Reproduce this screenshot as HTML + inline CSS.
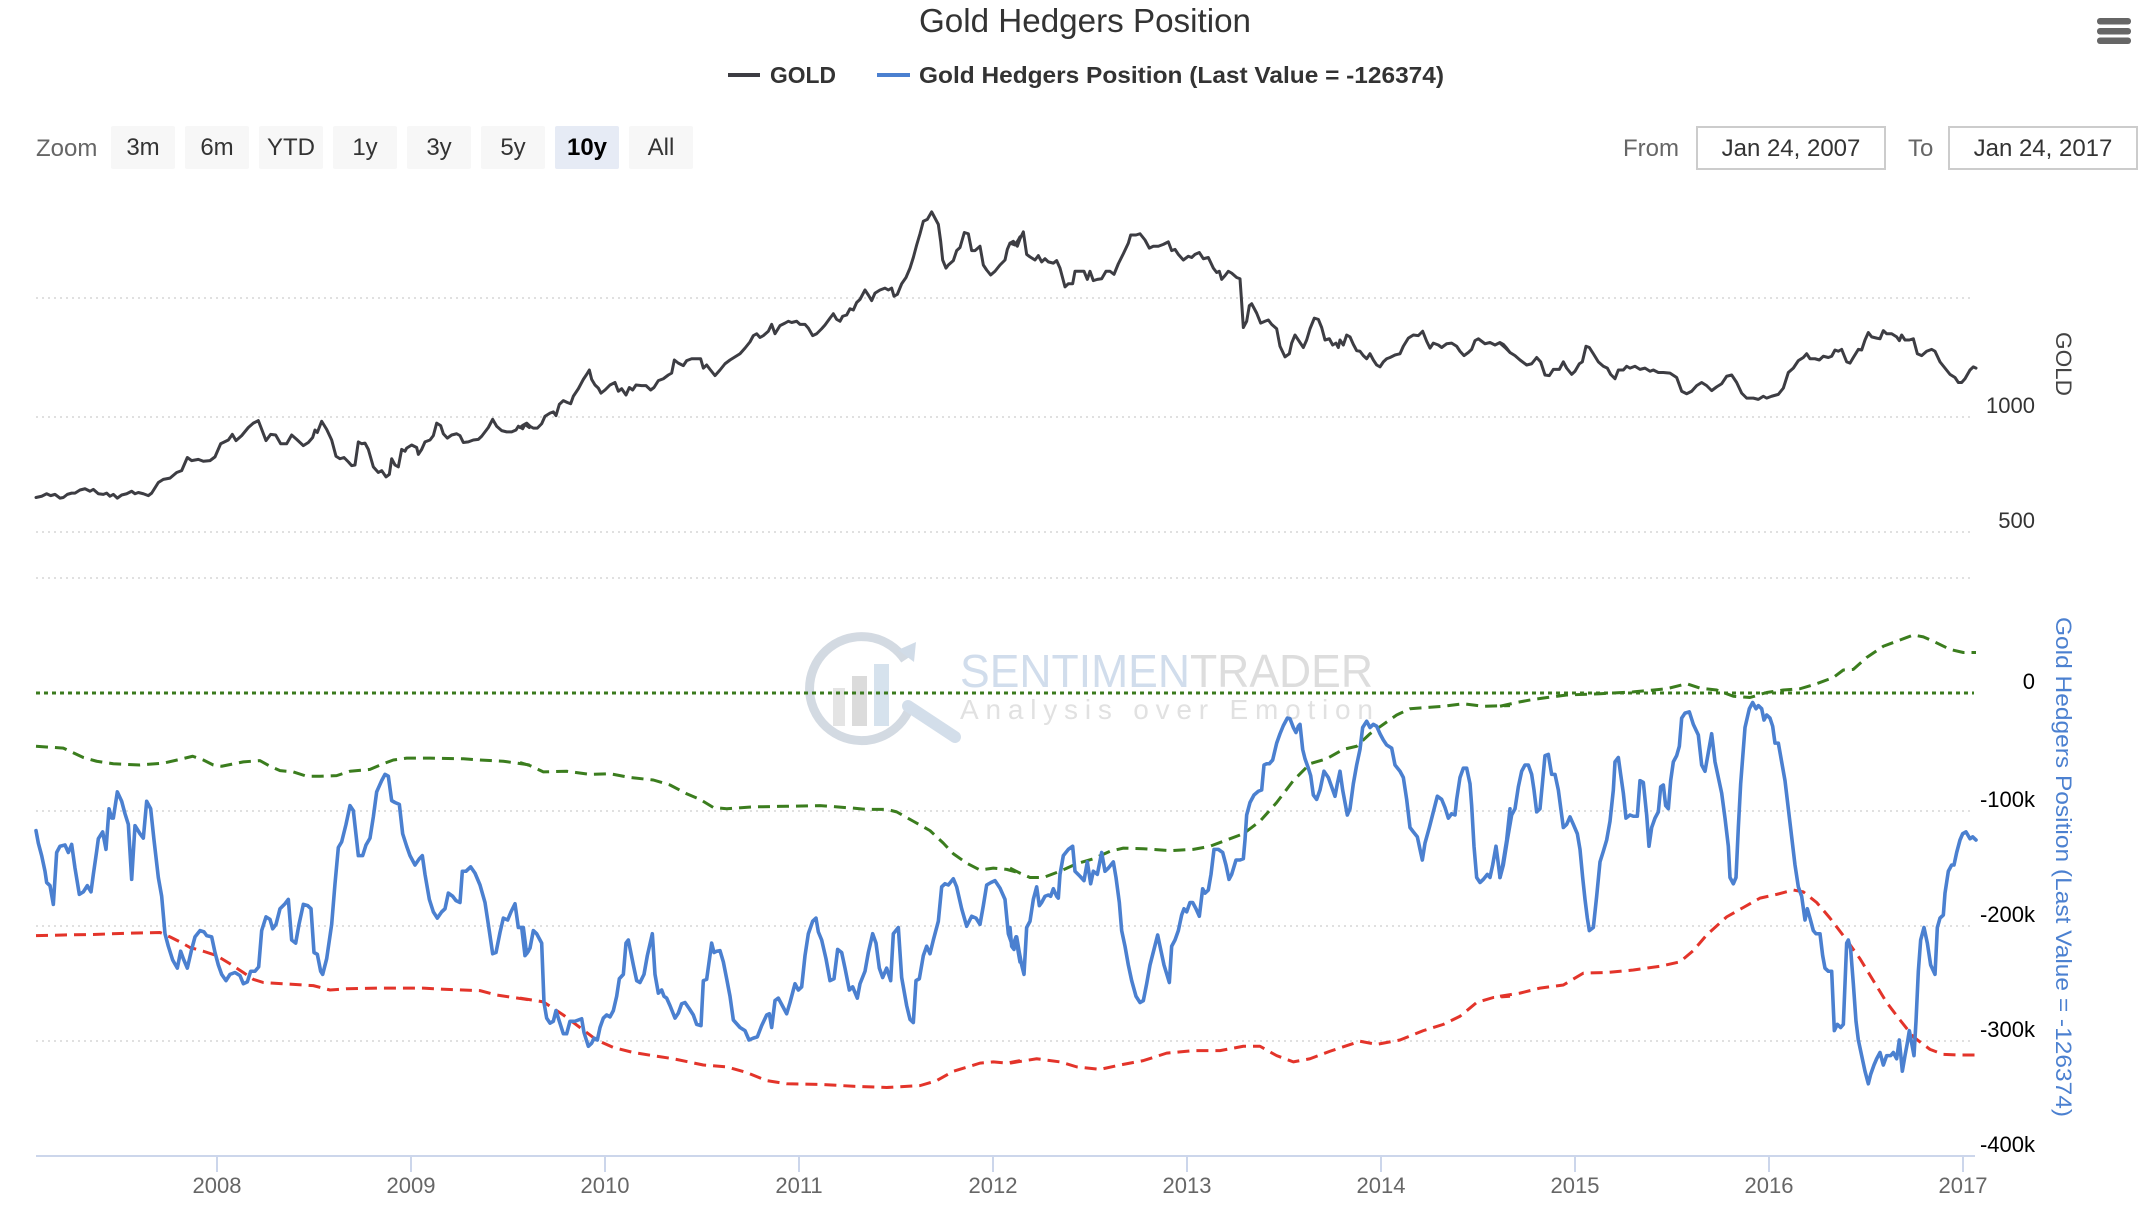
<!DOCTYPE html>
<html><head><meta charset="utf-8"><style>
html,body{margin:0;padding:0;background:#fff;}
svg{display:block;font-family:"Liberation Sans",Arial,sans-serif;}
.ns{vector-effect:non-scaling-stroke;fill:none;stroke-linejoin:round;stroke-linecap:round;}
.gold{stroke:#3d3d43;stroke-width:3;}
.blue{stroke:#4b80d0;stroke-width:3.6;}
.grn{stroke:#3b7d1e;stroke-width:3;stroke-dasharray:12,7;stroke-linecap:butt;}
.red{stroke:#e3342a;stroke-width:3;stroke-dasharray:12,7;stroke-linecap:butt;}
</style></head><body>
<svg width="2142" height="1212" viewBox="0 0 2142 1212" xmlns="http://www.w3.org/2000/svg">
<rect width="2142" height="1212" fill="#fff"/>
<!-- title -->
<text x="1085" y="32" text-anchor="middle" font-size="33" fill="#333" textLength="332" lengthAdjust="spacingAndGlyphs">Gold Hedgers Position</text>
<!-- legend -->
<line x1="728" y1="75" x2="760" y2="75" stroke="#3d3d43" stroke-width="4"/>
<text x="770" y="83" font-size="23" font-weight="bold" fill="#333" textLength="66" lengthAdjust="spacingAndGlyphs">GOLD</text>
<line x1="877" y1="75" x2="910" y2="75" stroke="#4b80d0" stroke-width="4"/>
<text x="919" y="83" font-size="23" font-weight="bold" fill="#333" textLength="525" lengthAdjust="spacingAndGlyphs">Gold Hedgers Position (Last Value = -126374)</text>
<!-- hamburger -->
<rect x="2097" y="18" width="34" height="6.5" rx="3" fill="#666"/>
<rect x="2097" y="28" width="34" height="6.5" rx="3" fill="#666"/>
<rect x="2097" y="37.5" width="34" height="6.5" rx="3" fill="#666"/>
<!-- zoom buttons -->
<text x="36" y="156" font-size="24" fill="#666">Zoom</text>
<g font-size="24" fill="#333" text-anchor="middle">
<rect x="111" y="126" width="64" height="43" rx="2" fill="#f7f7f7"/><text x="143" y="155">3m</text>
<rect x="185" y="126" width="64" height="43" rx="2" fill="#f7f7f7"/><text x="217" y="155">6m</text>
<rect x="259" y="126" width="64" height="43" rx="2" fill="#f7f7f7"/><text x="291" y="155">YTD</text>
<rect x="333" y="126" width="64" height="43" rx="2" fill="#f7f7f7"/><text x="365" y="155">1y</text>
<rect x="407" y="126" width="64" height="43" rx="2" fill="#f7f7f7"/><text x="439" y="155">3y</text>
<rect x="481" y="126" width="64" height="43" rx="2" fill="#f7f7f7"/><text x="513" y="155">5y</text>
<rect x="555" y="126" width="64" height="43" rx="2" fill="#e6ebf5"/><text x="587" y="155" font-weight="bold" fill="#000">10y</text>
<rect x="629" y="126" width="64" height="43" rx="2" fill="#f7f7f7"/><text x="661" y="155">All</text>
</g>
<text x="1623" y="156" font-size="24" fill="#666">From</text>
<rect x="1697" y="127" width="188" height="42" fill="#fff" stroke="#ccc" stroke-width="2"/>
<text x="1791" y="156" font-size="24" fill="#333" text-anchor="middle">Jan 24, 2007</text>
<text x="1908" y="156" font-size="24" fill="#666">To</text>
<rect x="1949" y="127" width="188" height="42" fill="#fff" stroke="#ccc" stroke-width="2"/>
<text x="2043" y="156" font-size="24" fill="#333" text-anchor="middle">Jan 24, 2017</text>

<!-- gridlines -->
<g stroke="#d6d6d6" stroke-width="1.5" stroke-dasharray="2,4">
<line x1="36" y1="298" x2="1974" y2="298"/>
<line x1="36" y1="417" x2="1974" y2="417"/>
<line x1="36" y1="532" x2="1974" y2="532"/>
<line x1="36" y1="578" x2="1974" y2="578"/>
<line x1="36" y1="811" x2="1974" y2="811"/>
<line x1="36" y1="926" x2="1974" y2="926"/>
<line x1="36" y1="1041" x2="1974" y2="1041"/>
</g>

<!-- watermark -->
<g opacity="0.9">
<path d="M 905,660 A 52,52 0 1 0 908,712" fill="none" stroke="#cfd6df" stroke-width="9"/>
<path d="M 898,650 L 916,642 L 914,662 Z" fill="#cdd9e6"/>
<rect x="833" y="688" width="12" height="38" fill="#e2e2e2"/>
<rect x="852" y="676" width="15" height="50" fill="#d8d8d8"/>
<rect x="874" y="664" width="15" height="62" fill="#d2dfec"/>
<line x1="908" y1="706" x2="955" y2="737" stroke="#cfdbe8" stroke-width="12" stroke-linecap="round"/>
<text x="960" y="687" font-size="46" textLength="413" lengthAdjust="spacingAndGlyphs"><tspan fill="#cddaea">SENTIMEN</tspan><tspan fill="#dadada">TRADER</tspan></text>
<text x="960" y="719" font-size="28" fill="#dedede" textLength="413" lengthAdjust="spacing">Analysis over Emotion</text>
</g>

<!-- zero line -->
<line x1="36" y1="693" x2="1974" y2="693" stroke="#3b7a1e" stroke-width="3" stroke-dasharray="4,4"/>

<!-- x axis -->
<line x1="36" y1="1156" x2="1975" y2="1156" stroke="#ccd6eb" stroke-width="2"/>
<g stroke="#ccd6eb" stroke-width="2">
<line x1="217" y1="1156" x2="217" y2="1172"/><line x1="411" y1="1156" x2="411" y2="1172"/>
<line x1="605" y1="1156" x2="605" y2="1172"/><line x1="799" y1="1156" x2="799" y2="1172"/>
<line x1="993" y1="1156" x2="993" y2="1172"/><line x1="1187" y1="1156" x2="1187" y2="1172"/>
<line x1="1381" y1="1156" x2="1381" y2="1172"/><line x1="1575" y1="1156" x2="1575" y2="1172"/>
<line x1="1769" y1="1156" x2="1769" y2="1172"/><line x1="1963" y1="1156" x2="1963" y2="1172"/>
</g>
<g font-size="22" fill="#666" text-anchor="middle">
<text x="217" y="1193">2008</text><text x="411" y="1193">2009</text><text x="605" y="1193">2010</text>
<text x="799" y="1193">2011</text><text x="993" y="1193">2012</text><text x="1187" y="1193">2013</text>
<text x="1381" y="1193">2014</text><text x="1575" y="1193">2015</text><text x="1769" y="1193">2016</text>
<text x="1963" y="1193">2017</text>
</g>
<!-- y labels -->
<g font-size="22" text-anchor="end">
<text x="2035" y="413" fill="#333">1000</text>
<text x="2035" y="528" fill="#333">500</text>
<text x="2035" y="689" fill="#000">0</text>
<text x="2035" y="807" fill="#000">-100k</text>
<text x="2035" y="922" fill="#000">-200k</text>
<text x="2035" y="1037" fill="#000">-300k</text>
<text x="2035" y="1152" fill="#000">-400k</text>
</g>
<text transform="translate(2064,364) rotate(90)" text-anchor="middle" dy="8" font-size="22" fill="#444" textLength="64" lengthAdjust="spacingAndGlyphs">GOLD</text>
<text transform="translate(2064,867) rotate(90)" text-anchor="middle" dy="8" font-size="22" fill="#4b80d0" textLength="500" lengthAdjust="spacingAndGlyphs">Gold Hedgers Position (Last Value = -126374)</text>

<!-- SEGMENT 1 -->
<g transform="translate(30,190) scale(0.333333,0.625)">
<polyline class="ns grn" points="18,890 100,893 120,898 160,908 200,914 250,918 330,920 400,917 450,911 488,906 520,912 550,920 575,922 640,915 690,913 720,922 750,929 790,931 830,938 870,938 920,937 960,930 1020,927 1060,918 1090,912 1130,909 1200,909 1300,910 1350,912 1420,914 1500,920"/>
<polyline class="ns red" points="18,1193 100,1192 200,1191 300,1189 390,1188 420,1195 450,1203 480,1212 520,1218 560,1225 600,1238 640,1252 670,1263 700,1268 760,1270 850,1273 900,1280 950,1278 1050,1277 1180,1277 1250,1279 1350,1281 1400,1288 1450,1292 1500,1296"/>
<polyline class="ns blue" points="18,1025 25,1045 35,1065 45,1090 50,1108 60,1113 70,1143 80,1060 90,1050 105,1048 115,1060 125,1047 135,1085 148,1127 160,1123 172,1113 183,1123 190,1095 200,1058 205,1038 218,1027 228,1055 237,990 245,1005 250,1005 262,963 275,978 285,998 295,1015 305,1103 315,1017 330,1030 340,1037 350,978 362,990 372,1040 385,1100 395,1130 405,1190 415,1210 428,1232 442,1245 452,1218 460,1230 472,1245 485,1215 495,1195 510,1185 522,1187 530,1193 545,1195 555,1220 565,1240 575,1255 588,1265 600,1255 615,1252 630,1257 640,1270 652,1267 662,1250 675,1250 686,1243 695,1185 708,1163 720,1167 728,1182 738,1175 750,1150 765,1142 775,1135 785,1200 797,1205 807,1175 820,1143 833,1145 843,1150 852,1220 862,1223 872,1250 878,1255 890,1230 905,1175 915,1110 925,1052 935,1043 948,1015 960,985 970,993 985,1065 998,1065 1008,1048 1020,1037 1030,1003 1040,963 1055,945 1065,935 1075,938 1085,977 1095,980 1108,983 1118,1030 1130,1050 1140,1065 1155,1080 1168,1070 1177,1065 1185,1095 1198,1135 1210,1155 1222,1165 1235,1155 1245,1150 1255,1125 1268,1130 1278,1137 1290,1140 1297,1090 1308,1090 1322,1083 1335,1093 1350,1112 1365,1140 1375,1175 1388,1222 1398,1220 1410,1188 1420,1165 1433,1168 1443,1155 1455,1142 1465,1180 1475,1180 1485,1225 1495,1218"/>
<polyline class="ns gold" points="18,492 35,490 50,486 62,489 75,487 90,493 100,492 112,487 125,485 135,485 150,480 165,478 180,482 190,479 205,486 220,487 230,485 240,490 250,487 262,493 275,488 290,486 305,482 315,486 325,484 340,486 355,489 365,485 385,468 400,463 420,461 440,452 455,449 472,428 485,433 505,431 520,434 540,433 555,427 572,406 595,400 607,391 618,401 635,393 655,380 670,373 685,369 693,380 708,401 722,391 737,392 752,406 770,406 785,392 800,399 820,409 835,404 848,396 855,384 862,388 875,370 890,383 905,400 918,426 930,430 942,428 955,435 965,441 975,440 985,403 995,406 1005,405 1015,415 1030,443 1045,452 1055,449 1068,459 1078,455 1085,430 1095,440 1105,443 1115,415 1125,418 1130,413 1145,408 1160,412 1165,423 1175,415 1185,403 1200,400 1210,393 1220,373 1232,377 1240,390 1252,397 1265,392 1280,390 1290,393 1300,404 1315,403 1330,400 1345,399 1355,394 1375,380 1388,367 1400,378 1415,385 1430,387 1445,387 1458,384 1465,378 1478,382 1485,375 1498,380"/>
</g>

<!-- SEGMENT 2 -->
<g transform="translate(520,190) scale(0.333333,0.625)">
<polyline class="ns grn" points="0,916 30,921 70,931 140,930 210,935 270,934 330,940 400,944 450,952 500,966 540,975 580,988 620,990 700,987 800,986 900,985 1000,989 1040,991 1100,991 1130,995 1180,1010 1230,1025 1270,1045 1300,1062 1340,1077 1380,1088 1420,1085 1460,1087 1500,1093"/>
<polyline class="ns red" points="0,1293 70,1299 130,1320 180,1340 230,1360 280,1372 340,1380 410,1386 460,1390 550,1400 620,1403 680,1412 740,1425 800,1430 900,1431 1000,1434 1100,1436 1200,1433 1250,1425 1300,1410 1350,1402 1380,1397 1420,1395 1460,1397 1500,1393"/>
<polyline class="ns blue" points="0,1180 10,1180 20,1222 30,1213 40,1185 50,1190 65,1205 72,1300 80,1325 90,1333 100,1330 108,1313 118,1330 130,1350 140,1350 150,1330 165,1330 185,1326 192,1348 205,1370 215,1365 222,1357 232,1360 240,1340 250,1325 260,1320 270,1323 280,1313 290,1290 298,1262 310,1255 318,1205 325,1200 340,1240 350,1265 360,1268 372,1255 382,1225 397,1190 405,1255 415,1285 425,1280 432,1290 440,1293 450,1305 465,1325 475,1317 485,1302 495,1300 508,1310 520,1320 530,1335 543,1337 550,1265 560,1263 575,1205 582,1220 590,1218 600,1217 610,1235 620,1262 630,1290 640,1328 660,1340 675,1345 687,1360 700,1357 712,1355 725,1337 740,1320 748,1318 755,1340 765,1297 775,1293 787,1305 800,1318 810,1300 820,1280 825,1270 835,1280 845,1275 855,1225 865,1190 878,1170 888,1165 895,1187 905,1200 918,1230 930,1265 942,1262 953,1215 965,1220 975,1245 988,1280 998,1275 1012,1293 1020,1270 1035,1250 1045,1220 1058,1190 1068,1205 1078,1245 1088,1260 1100,1245 1112,1265 1120,1190 1135,1180 1145,1260 1160,1305 1170,1327 1180,1332 1188,1265 1198,1262 1210,1225 1220,1210 1230,1222 1240,1200 1255,1170 1265,1115 1275,1110 1285,1112 1300,1102 1310,1115 1325,1150 1340,1178 1355,1162 1368,1165 1380,1175 1390,1145 1400,1112 1413,1108 1425,1105 1440,1117 1455,1135 1465,1190 1478,1210 1488,1195 1495,1220 1500,1235"/>
<polyline class="ns gold" points="0,380 10,376 20,373 30,378 40,381 52,381 65,374 75,362 90,357 100,355 108,361 118,343 130,337 142,340 152,342 160,330 175,318 190,303 200,295 208,288 215,303 225,312 235,317 243,325 255,320 270,312 285,308 295,322 305,318 318,328 328,316 338,320 348,312 365,313 378,313 392,320 402,316 415,305 430,302 445,296 455,293 463,272 475,277 490,281 500,273 515,270 530,270 542,270 550,285 560,280 570,287 585,297 600,288 615,278 630,272 645,267 660,262 675,253 690,243 700,233 710,230 720,236 730,233 745,226 755,215 765,230 780,217 795,213 805,210 815,212 830,210 840,215 855,215 865,221 878,233 890,230 905,222 915,216 930,205 940,198 950,207 960,210 968,202 980,200 990,190 1000,192 1010,180 1020,175 1035,160 1045,168 1055,177 1065,165 1080,160 1095,157 1105,160 1115,157 1122,170 1132,167 1145,150 1158,140 1170,125 1180,108 1190,88 1200,70 1210,50 1222,47 1235,35 1245,45 1255,55 1262,82 1268,112 1278,125 1285,120 1300,113 1310,97 1320,92 1333,68 1345,70 1355,97 1365,97 1380,90 1390,120 1400,128 1412,136 1425,130 1440,120 1455,112 1462,95 1470,85 1485,88 1495,80 1500,75"/>
</g>

<!-- SEGMENT 3 -->
<g transform="translate(1010,190) scale(0.333333,0.625)">
<polyline class="ns grn" points="0,1085 30,1093 60,1100 100,1100 150,1090 200,1078 250,1070 300,1058 340,1053 400,1054 480,1057 550,1055 600,1050 650,1040 700,1030 750,1010 800,980 850,945 900,918 950,910 1000,895 1040,890 1080,870 1120,855 1160,840 1200,830 1300,826 1360,822 1420,826 1500,825"/>
<polyline class="ns red" points="0,1397 80,1390 150,1395 200,1403 270,1407 330,1400 400,1393 470,1381 550,1377 630,1377 700,1370 750,1370 800,1385 850,1395 900,1390 960,1378 1050,1362 1100,1367 1170,1360 1240,1345 1300,1335 1350,1322 1400,1300 1450,1292 1500,1290"/>
<polyline class="ns blue" points="0,1180 5,1210 12,1215 20,1195 28,1220 35,1240 42,1255 50,1180 60,1170 70,1135 80,1115 88,1145 95,1140 105,1130 115,1128 122,1130 130,1118 140,1130 145,1133 150,1095 160,1065 175,1055 188,1050 195,1090 210,1098 222,1105 232,1075 242,1110 250,1090 262,1095 275,1060 285,1090 295,1085 310,1075 318,1100 328,1140 335,1185 345,1210 355,1240 365,1265 378,1290 390,1300 400,1297 410,1270 420,1240 432,1215 443,1192 452,1215 462,1240 478,1268 485,1210 495,1200 505,1185 515,1160 522,1150 530,1155 540,1140 548,1140 558,1150 568,1162 578,1118 585,1125 595,1120 603,1095 612,1055 625,1055 638,1060 648,1080 657,1103 665,1095 678,1072 690,1072 700,1070 705,1040 710,1000 720,980 732,968 745,962 755,960 762,920 770,918 778,918 788,912 800,885 810,870 820,857 832,845 840,846 850,860 858,868 865,858 870,855 878,895 885,910 895,925 902,937 910,968 920,975 930,960 942,930 955,940 965,955 975,970 982,950 990,930 998,960 1005,980 1012,1000 1020,990 1030,950 1040,920 1050,895 1058,860 1070,850 1080,860 1090,855 1100,858 1110,870 1120,880 1130,888 1145,893 1155,920 1170,930 1180,940 1190,975 1200,1020 1210,1027 1222,1035 1230,1055 1237,1072 1245,1045 1258,1020 1270,995 1282,970 1295,975 1305,988 1315,1005 1325,998 1335,1000 1340,975 1350,940 1360,925 1370,925 1380,950 1385,985 1392,1050 1400,1100 1410,1108 1420,1103 1432,1095 1440,1100 1448,1080 1458,1050 1463,1070 1470,1100 1478,1080 1490,1040 1500,990"/>
<polyline class="ns gold" points="0,85 10,82 22,90 30,78 40,67 50,103 60,107 75,112 85,105 95,115 105,110 115,115 130,117 140,113 150,125 165,155 175,150 188,150 195,130 210,130 222,130 232,143 240,130 250,145 262,143 275,142 288,130 300,130 312,135 325,118 340,102 355,85 362,72 378,72 390,70 405,80 418,93 430,90 445,90 460,87 475,83 485,97 495,95 505,103 520,112 535,106 545,108 555,103 568,100 580,110 595,108 610,125 620,132 628,130 635,143 645,137 655,130 665,133 680,140 690,142 695,180 700,220 710,210 718,185 725,182 740,197 752,213 765,210 775,208 785,215 800,222 810,250 825,267 838,262 845,245 855,232 865,240 880,252 890,240 900,222 913,205 925,207 935,220 945,240 958,238 968,248 978,245 985,252 990,240 1000,248 1010,232 1020,235 1030,247 1040,257 1050,258 1060,265 1070,270 1080,262 1090,272 1100,280 1110,283 1120,275 1130,270 1140,268 1155,264 1170,262 1180,250 1195,237 1210,232 1225,233 1238,226 1250,242 1260,253 1270,245 1285,248 1295,252 1310,246 1325,245 1340,250 1350,258 1362,265 1375,260 1385,255 1395,241 1405,238 1415,242 1425,246 1440,244 1455,248 1470,244 1480,247 1490,253 1500,260"/>
</g>

<!-- SEGMENT 4 -->
<g transform="translate(1500,190) scale(0.333333,0.625)">
<polyline class="ns grn" points="0,826 50,820 100,815 200,808 300,806 400,803 500,798 560,790 600,797 650,800 700,810 750,812 800,804 850,800 900,798 950,790 1000,780 1030,768 1060,767 1100,748 1150,730 1200,720 1240,712 1270,715 1300,722 1350,735 1390,740 1428,740"/>
<polyline class="ns red" points="0,1290 60,1285 120,1277 190,1272 250,1253 320,1252 400,1248 480,1242 540,1235 580,1217 620,1192 680,1163 730,1148 780,1133 830,1127 880,1120 910,1123 950,1140 990,1165 1040,1200 1080,1230 1120,1265 1160,1300 1200,1328 1240,1355 1290,1375 1330,1383 1380,1384 1428,1384"/>
<polyline class="ns blue" points="0,1100 10,1080 22,1040 35,1000 45,990 55,955 65,930 75,920 85,920 95,935 102,960 110,995 120,990 128,945 135,905 145,903 155,935 165,935 175,960 185,1000 190,1020 200,1015 210,1003 220,1015 232,1030 240,1055 248,1100 255,1135 262,1165 268,1185 280,1180 290,1130 300,1075 310,1058 320,1040 330,1010 340,960 345,915 355,908 362,935 370,965 378,1005 390,1000 400,1002 412,1002 420,945 430,948 440,1000 447,1050 455,1020 465,1005 475,995 482,955 490,952 497,985 505,990 512,945 520,915 530,905 538,890 545,845 555,837 568,835 580,855 595,872 605,920 615,930 625,900 635,870 645,915 655,940 665,965 675,1005 685,1050 690,1100 700,1110 708,1100 715,1020 722,950 735,860 748,830 758,820 768,830 775,825 785,830 792,848 800,840 810,845 818,858 825,885 835,885 845,915 855,945 865,990 875,1035 885,1080 895,1115 905,1130 915,1168 922,1150 930,1165 940,1185 948,1190 960,1190 968,1225 975,1245 985,1250 995,1250 1003,1345 1012,1335 1022,1340 1030,1335 1040,1205 1045,1200 1052,1215 1060,1270 1068,1330 1075,1360 1085,1385 1095,1410 1105,1430 1112,1415 1122,1400 1130,1390 1140,1380 1150,1400 1160,1385 1172,1385 1180,1380 1190,1390 1198,1360 1207,1410 1215,1385 1222,1365 1228,1345 1235,1365 1242,1385 1248,1330 1255,1250 1262,1200 1272,1180 1282,1205 1292,1240 1305,1255 1312,1180 1320,1165 1330,1160 1335,1125 1345,1090 1355,1080 1362,1080 1370,1060 1380,1040 1388,1030 1398,1027 1410,1038 1418,1035 1428,1040"/>
<polyline class="ns gold" points="0,245 15,252 30,260 45,265 60,272 80,280 95,278 110,268 122,275 135,296 148,297 160,287 178,287 190,275 200,285 215,295 225,290 238,278 247,275 258,250 268,252 280,262 295,275 310,282 322,285 332,295 345,302 355,288 370,288 380,282 390,285 405,282 420,287 435,285 450,290 460,288 475,292 490,292 510,293 530,300 545,322 560,326 575,322 590,313 605,308 620,313 635,321 650,315 665,310 680,298 695,296 710,308 725,325 740,333 760,333 775,335 790,330 800,333 815,330 835,327 850,317 865,292 880,285 895,273 910,268 920,262 930,270 945,270 958,272 970,266 985,268 995,266 1005,256 1015,258 1025,255 1040,275 1050,277 1060,268 1075,255 1085,256 1095,240 1105,228 1115,235 1130,237 1140,238 1150,225 1160,230 1175,230 1190,235 1198,241 1205,232 1215,240 1228,240 1240,238 1252,262 1265,265 1280,258 1295,255 1305,258 1320,275 1335,285 1350,295 1365,300 1375,308 1385,308 1395,302 1410,288 1420,283 1428,285"/>
</g>
</svg>
</body></html>
